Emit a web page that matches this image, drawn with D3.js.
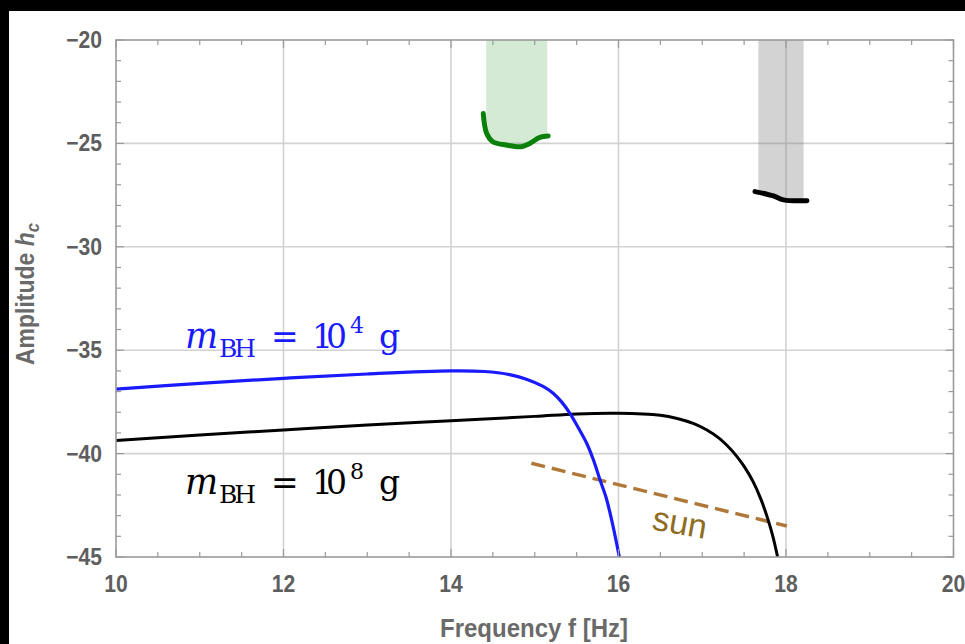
<!DOCTYPE html>
<html>
<head>
<meta charset="utf-8">
<script src="https://cdn.jsdelivr.net/npm/d3@7"></script>
<style>
  html, body { margin: 0; padding: 0; background: #000; }
  svg { display: block; }
</style>
</head>
<body>
<svg id="chart" width="965" height="644"></svg>
<script>
// Characteristic strain spectra, log10 scale
const blueFreq = [10, 11, 12, 13, 14, 14.4, 14.7, 14.9, 15.1, 15.22, 15.32, 15.42, 15.52, 15.62, 15.7, 15.78, 15.85, 15.9, 15.95, 16.01];
const blueAmp  = [-36.88, -36.6, -36.36, -36.15, -36.0, -36.03, -36.18, -36.4, -36.75, -37.08, -37.5, -38.05, -38.75, -39.5, -40.3, -41.28, -42.1, -42.89, -43.8, -45];

const blackFreq = [10, 11, 12, 13, 14, 15, 15.5, 16, 16.5, 16.7, 16.9, 17.05, 17.2, 17.3, 17.41, 17.5, 17.61, 17.7, 17.77, 17.84, 17.9];
const blackAmp  = [-39.37, -39.1, -38.86, -38.62, -38.41, -38.2, -38.08, -38.05, -38.15, -38.3, -38.55, -38.85, -39.25, -39.62, -40.12, -40.62, -41.38, -42.2, -43.0, -43.95, -45];

// Detector sensitivity curves
const greenFreq = [14.385, 14.425, 14.5, 14.66, 14.84, 14.94, 15.06, 15.16];
const greenAmp  = [-23.55, -24.51, -24.92, -25.08, -25.16, -25.0, -24.71, -24.64];
const greenBand = [14.42, 15.15];

const grayFreq = [17.63, 17.85, 17.97, 18.25];
const grayAmp  = [-27.33, -27.54, -27.73, -27.77];
const grayBand = [17.67, 18.21];

// Solar background
const sunFreq = [14.96, 18.01];
const sunAmp  = [-40.47, -43.5];

const xTicks = [10, 12, 14, 16, 18, 20];
const yTicks = [-20, -25, -30, -35, -40, -45];

const svg = d3.select("#chart");
const W = 965, H = 644;

svg.append("rect").attr("x", 9).attr("y", 11).attr("width", W - 9).attr("height", H - 11).attr("fill", "#fff");

const x = d3.scaleLinear().domain([10, 20]).range([116, 953.5]);
const y = d3.scaleLinear().domain([-45, -20]).range([557, 40]);

const [x0, x1] = x.range();
const [y0, y1] = y.range();

const plot = svg.append("g");
const clipId = "plotclip";
svg.append("defs").append("clipPath").attr("id", clipId)
  .append("rect").attr("x", x0).attr("y", y1).attr("width", x1 - x0).attr("height", y0 - y1);

// grid
const grid = plot.append("g").attr("stroke", "#d2d2d2").attr("stroke-width", 1.6);
xTicks.slice(1, -1).forEach(t => grid.append("line").attr("x1", x(t)).attr("x2", x(t)).attr("y1", y1).attr("y2", y0));
yTicks.slice(1, -1).forEach(t => grid.append("line").attr("y1", y(t)).attr("y2", y(t)).attr("x1", x0).attr("x2", x1));

// shaded sensitivity bands, bounded below by their curves
function bandPoly(freq, amp, band) {
  const interp = f => {
    for (let i = 0; i < freq.length - 1; i++) {
      if (f >= freq[i] && f <= freq[i + 1]) {
        const t = (f - freq[i]) / (freq[i + 1] - freq[i]);
        return amp[i] + t * (amp[i + 1] - amp[i]);
      }
    }
    return f < freq[0] ? amp[0] : amp[amp.length - 1];
  };
  const pts = [[band[0], -20]];
  pts.push([band[0], interp(band[0])]);
  freq.forEach((f, i) => { if (f > band[0] && f < band[1]) pts.push([f, amp[i]]); });
  pts.push([band[1], interp(band[1])]);
  pts.push([band[1], -20]);
  return pts;
}
const polyLine = d3.line().x(d => x(d[0])).y(d => y(d[1]));
plot.append("path").attr("d", polyLine(bandPoly(greenFreq, greenAmp, greenBand)) + "Z")
  .attr("fill", "rgba(0,128,0,0.17)");
plot.append("path").attr("d", polyLine(bandPoly(grayFreq, grayAmp, grayBand)) + "Z")
  .attr("fill", "rgba(120,120,120,0.33)");

const smooth = d3.line().x(d => x(d[0])).y(d => y(d[1])).curve(d3.curveCatmullRom.alpha(0.5));
const straight = d3.line().x(d => x(d[0])).y(d => y(d[1]));
const zip = (a, b) => a.map((v, i) => [v, b[i]]);

const lines = plot.append("g").attr("clip-path", `url(#${clipId})`).attr("fill", "none");

lines.append("path").attr("d", straight(zip(sunFreq, sunAmp)))
  .attr("stroke", "#b07838").attr("stroke-width", 3.5).attr("stroke-dasharray", "14,7");
lines.append("path").attr("d", smooth(zip(blackFreq, blackAmp)))
  .attr("stroke", "#000").attr("stroke-width", 3);
lines.append("path").attr("d", smooth(zip(blueFreq, blueAmp)))
  .attr("stroke", "#1a1aff").attr("stroke-width", 3.2);
lines.append("path").attr("d", smooth(zip(greenFreq, greenAmp)))
  .attr("stroke", "#0a800a").attr("stroke-width", 5).attr("stroke-linecap", "round");
lines.append("path").attr("d", smooth(zip(grayFreq, grayAmp)))
  .attr("stroke", "#000").attr("stroke-width", 5).attr("stroke-linecap", "round");

// frame with inward ticks on all four sides
const frame = svg.append("g").attr("stroke", "#9a9a9a").attr("fill", "none");
frame.append("rect").attr("x", x0).attr("y", y1).attr("width", x1 - x0).attr("height", y0 - y1).attr("stroke-width", 1.6);
const xMinor = d3.range(10, 20.01, 0.5);
const yMinor = d3.range(-45, -19.99, 1);
xMinor.forEach(t => {
  const len = xTicks.includes(t) ? 8 : 5;
  frame.append("line").attr("x1", x(t)).attr("x2", x(t)).attr("y1", y0).attr("y2", y0 - len).attr("stroke-width", 1.2);
  frame.append("line").attr("x1", x(t)).attr("x2", x(t)).attr("y1", y1).attr("y2", y1 + len).attr("stroke-width", 1.2);
});
yMinor.forEach(t => {
  const len = yTicks.includes(Math.round(t)) ? 8 : 5;
  frame.append("line").attr("y1", y(t)).attr("y2", y(t)).attr("x1", x0).attr("x2", x0 + len).attr("stroke-width", 1.2);
  frame.append("line").attr("y1", y(t)).attr("y2", y(t)).attr("x1", x1).attr("x2", x1 - len).attr("stroke-width", 1.2);
});

// tick labels: bold, slightly condensed
const tickFont = "'Liberation Sans Narrow', 'Liberation Sans', Arial, sans-serif";
const labels = svg.append("g").attr("font-family", tickFont).attr("font-weight", "bold")
  .attr("font-size", 24).attr("fill", "#5e5e5e");
xTicks.forEach(t => labels.append("text")
  .attr("transform", `translate(${x(t)},592) scale(0.88,1)`).attr("text-anchor", "middle").text(t));
yTicks.forEach(t => labels.append("text")
  .attr("transform", `translate(102,${y(t) + 8}) scale(0.88,1)`).attr("text-anchor", "end")
  .text(String(t).replace("-", "\u2212")));

// axis titles
const yTitle = svg.append("text").attr("font-family", tickFont).attr("font-weight", "bold")
  .attr("font-size", 25).attr("fill", "#6a6a6a").attr("text-anchor", "middle")
  .attr("transform", "translate(34,294) rotate(-90) scale(0.92,1)");
yTitle.append("tspan").text("Amplitude ");
yTitle.append("tspan").attr("font-style", "italic").text("h");
yTitle.append("tspan").attr("font-style", "italic").attr("font-size", 18).attr("dy", 5).text("c");

svg.append("text").attr("font-family", tickFont).attr("font-weight", "bold")
  .attr("font-size", 25).attr("fill", "#6a6a6a").attr("text-anchor", "middle")
  .attr("transform", "translate(534,637) scale(0.96,1)").text("Frequency f [Hz]");

// curve annotations
const mathFont = "'DejaVu Serif', 'Liberation Serif', serif";
function massLabel(px, py, exp, color) {
  const g = svg.append("g").attr("transform", `translate(${px},${py})`)
    .attr("font-family", mathFont).attr("fill", color);
  g.append("text").attr("x", 0).attr("y", 0).attr("font-size", 35).attr("font-style", "italic")
    .attr("textLength", 31).text("m");
  g.append("text").attr("x", 34).attr("y", 9).attr("font-size", 25).attr("textLength", 37).text("BH");
  g.append("text").attr("x", 86).attr("y", 0).attr("font-size", 33).attr("textLength", 26).text("=");
  g.append("text").attr("x", 127).attr("y", 0).attr("font-size", 33).attr("textLength", 35).text("10");
  g.append("text").attr("x", 165).attr("y", -15).attr("font-size", 22).attr("textLength", 13).text(exp);
  g.append("text").attr("x", 194).attr("y", 0).attr("font-size", 33).attr("textLength", 21).text("g");
}
massLabel(185, 348, "4", "#1a1aff");
massLabel(185, 494, "8", "#000");

svg.append("text").attr("font-family", "'Liberation Sans', Arial, sans-serif").attr("font-size", 34)
  .attr("fill", "#8f6c22").attr("text-anchor", "middle")
  .attr("transform", "translate(678,534) rotate(10)").text("sun");
</script>
</body>
</html>
